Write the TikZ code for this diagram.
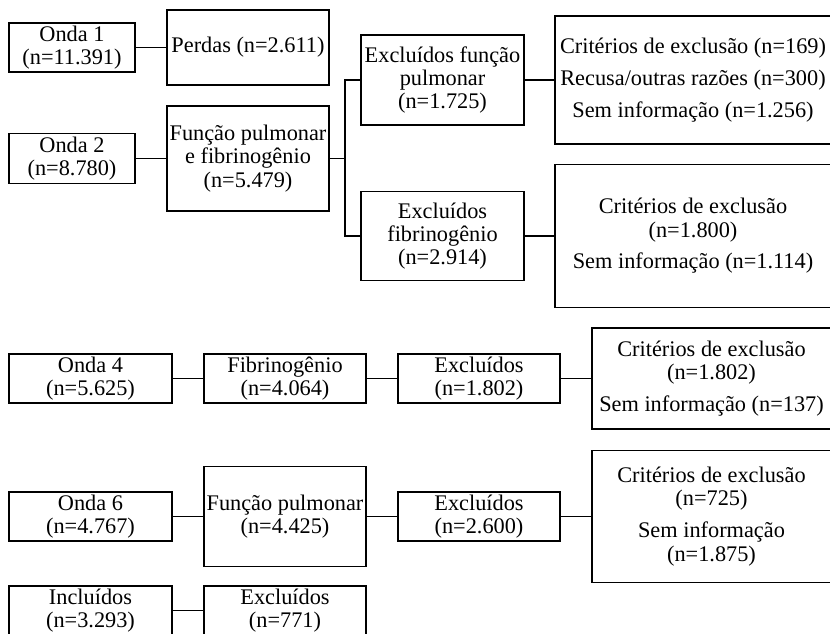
\documentclass[tikz,border=0pt]{standalone}
\usepackage{fontspec}
\setmainfont{Liberation Serif}
\begin{document}
\begin{tikzpicture}[x=0.02cm,y=-0.02cm,
  caixa/.style={draw,line width=1.1pt,align=center,inner sep=0pt,font=\fontsize{12.7}{13.3}\selectfont},
  linha/.style={line width=1.1pt}]
\useasboundingbox (0,0) rectangle (830,633);
% onda 1 e 2
\node[caixa,minimum width=2.52cm,minimum height=0.98cm] (onda1) at (72,47.5) {Onda 1\\(n=11.391)};
\node[caixa,minimum width=3.24cm,minimum height=1.5cm] (perdas) at (248,47.5) {Perdas (n=2.611)};
\node[caixa,minimum width=2.52cm,minimum height=1.0cm] (onda2) at (72,158.5) {Onda 2\\(n=8.780)};
\node[caixa,minimum width=3.24cm,minimum height=2.1cm] (funcfib) at (248,158.5) {Função pulmonar\\e fibrinogênio\\(n=5.479)};
\node[caixa,minimum width=3.26cm,minimum height=1.8cm] (exclfp) at (442.5,80) {Excluídos função\\pulmonar\\(n=1.725)};
\node[caixa,minimum width=3.26cm,minimum height=1.78cm] (exclfib) at (442.5,236) {Excluídos\\fibrinogênio\\(n=2.914)};
\node[caixa,minimum width=5.52cm,minimum height=2.56cm] (crit1) at (693,80) {Critérios de exclusão (n=169)\\[4.8pt]Recusa/outras razões (n=300)\\[4.8pt]Sem informação (n=1.256)};
\node[caixa,minimum width=5.52cm,minimum height=2.86cm] (crit2) at (693,236) {Critérios de exclusão\\(n=1.800)\\[4.8pt]Sem informação (n=1.114)};
\coordinate (ramo) at (345,158.5);
\draw[linha] (onda1) -- (perdas);
\draw[linha] (onda2) -- (funcfib);
\draw[linha] (funcfib) -- (ramo);
\draw[linha] (exclfp.west) -| (ramo) |- (exclfib.west);
\draw[linha] (exclfp) -- (crit1);
\draw[linha] (exclfib) -- (crit2);
% onda 4
\node[caixa,minimum width=3.26cm,minimum height=0.98cm] (onda4) at (90.5,378.5) {Onda 4\\(n=5.625)};
\node[caixa,minimum width=3.24cm,minimum height=0.98cm] (fibri) at (285,378.5) {Fibrinogênio\\(n=4.064)};
\node[caixa,minimum width=3.24cm,minimum height=0.98cm] (excl4) at (479,378.5) {Excluídos\\(n=1.802)};
\node[caixa,minimum width=4.78cm,minimum height=2.02cm] (crit3) at (711.5,378.5) {Critérios de exclusão\\(n=1.802)\\[4.8pt]Sem informação (n=137)};
\draw[linha] (onda4) -- (fibri) -- (excl4) -- (crit3);
% onda 6
\node[caixa,minimum width=3.26cm,minimum height=0.98cm] (onda6) at (90.5,516.5) {Onda 6\\(n=4.767)};
\node[caixa,minimum width=3.24cm,minimum height=2.0cm] (pulm6) at (285,516.5) {Função pulmonar\\(n=4.425)};
\node[caixa,minimum width=3.24cm,minimum height=0.98cm] (excl6) at (479,516.5) {Excluídos\\(n=2.600)};
\node[caixa,minimum width=4.78cm,minimum height=2.64cm] (crit4) at (711.5,516.5) {Critérios de exclusão\\(n=725)\\[4.8pt]Sem informação\\(n=1.875)};
\draw[linha] (onda6) -- (pulm6) -- (excl6) -- (crit4);
% final
\node[caixa,minimum width=3.26cm,minimum height=0.98cm] (incl) at (90.5,610.5) {Incluídos\\(n=3.293)};
\node[caixa,minimum width=3.24cm,minimum height=0.98cm] (excl7) at (285,610.5) {Excluídos\\(n=771)};
\draw[linha] (incl) -- (excl7);
\end{tikzpicture}
\end{document}
